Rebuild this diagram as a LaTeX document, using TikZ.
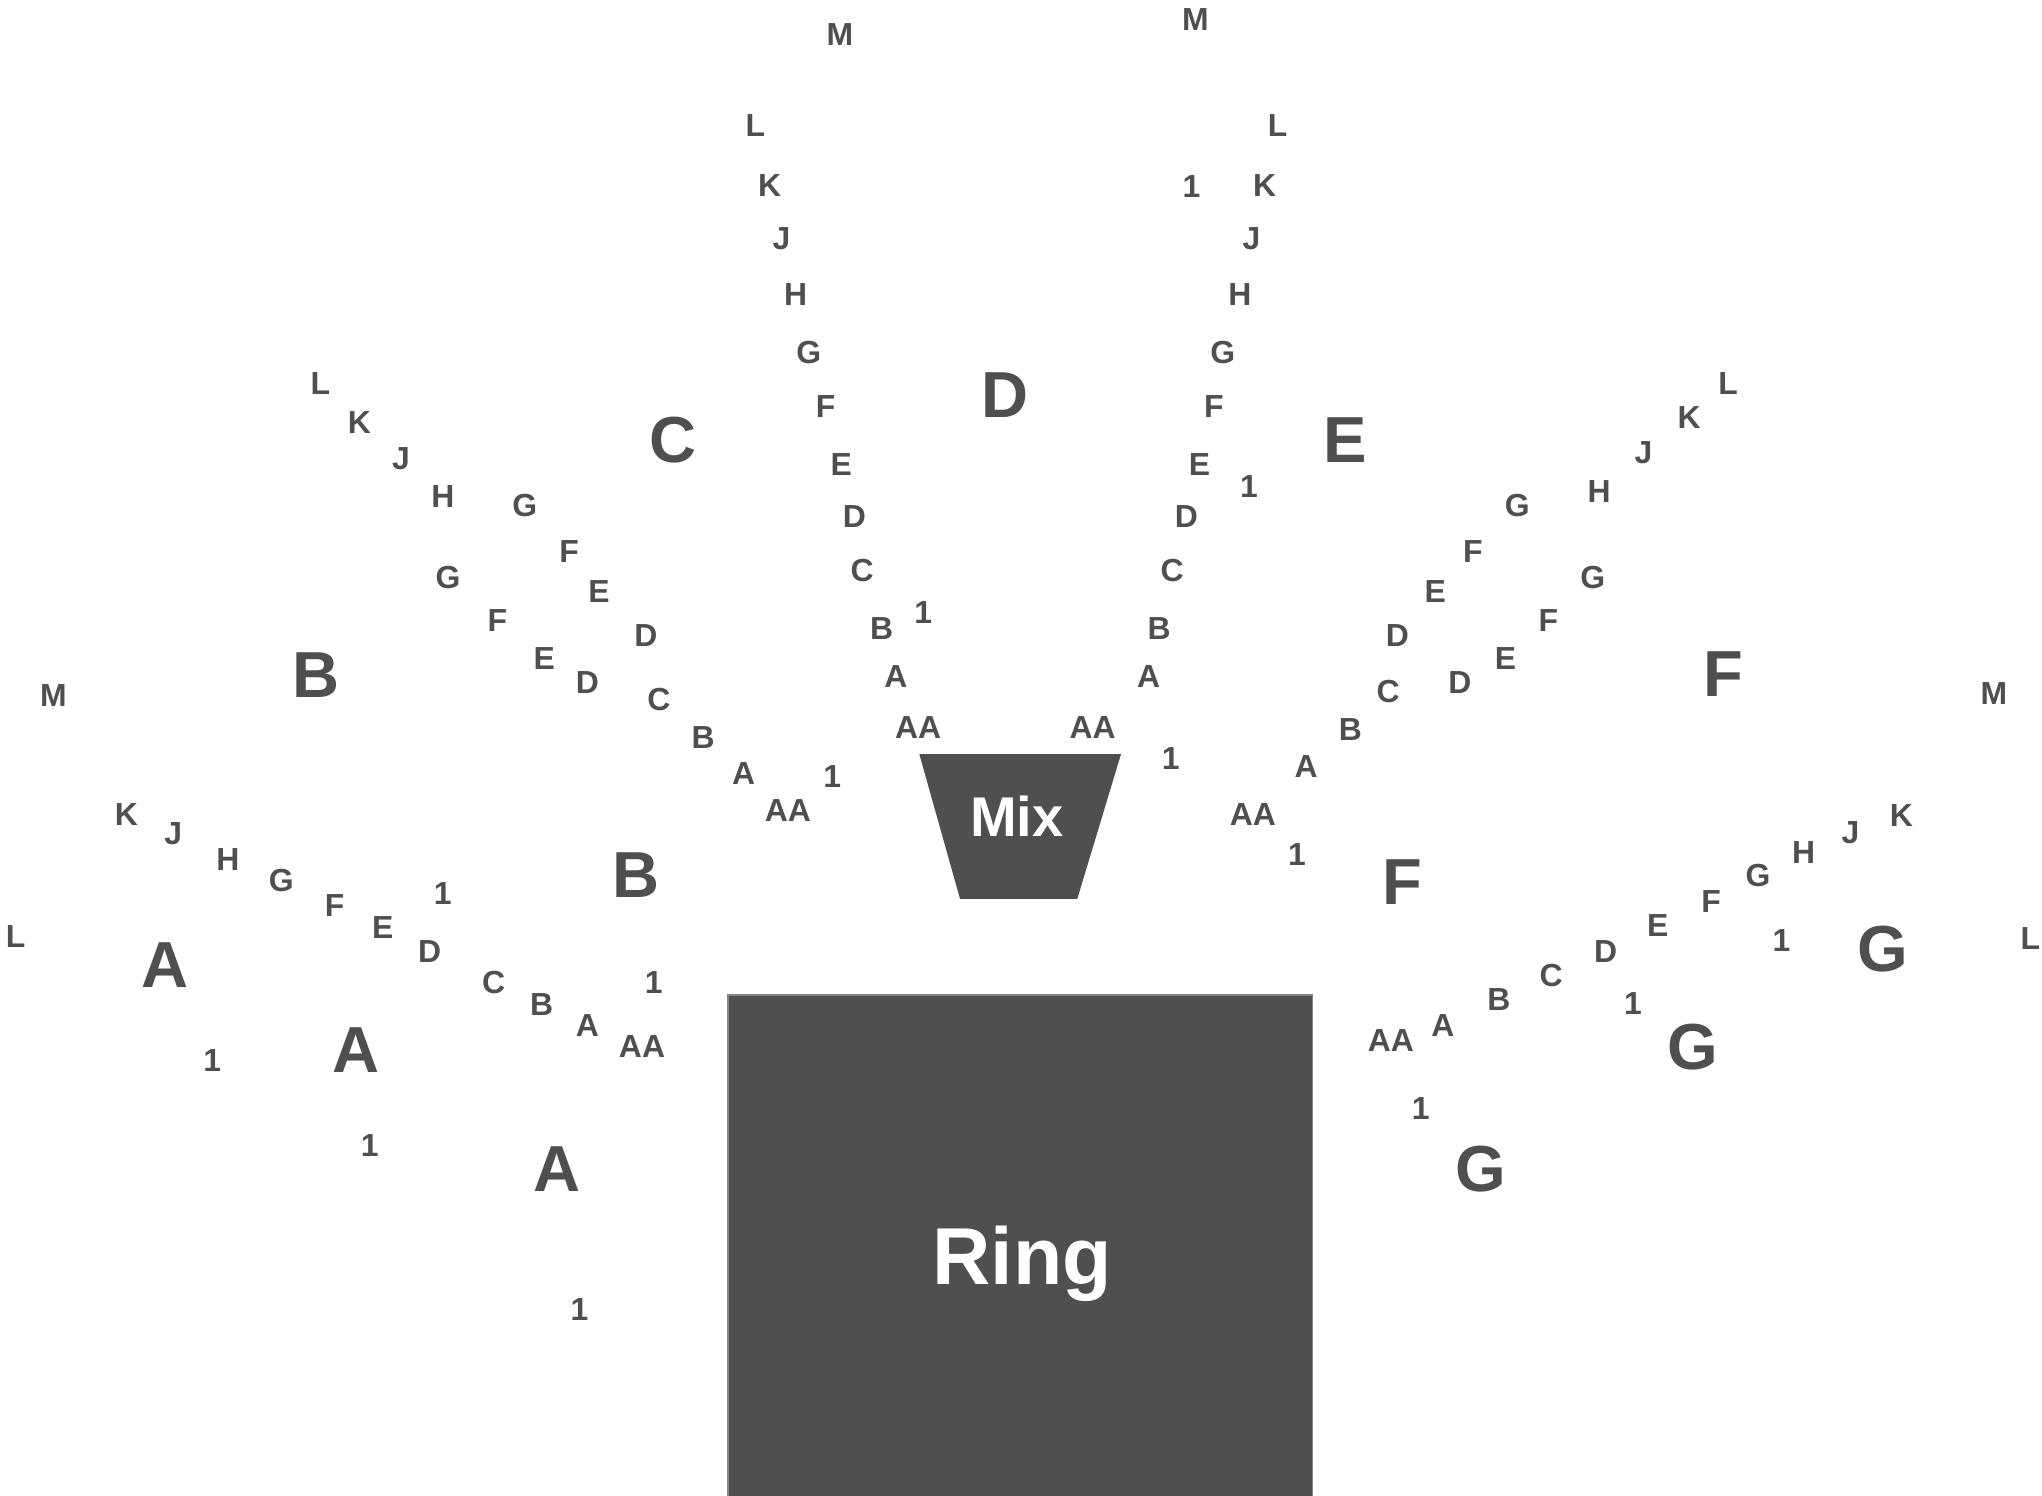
\documentclass[tikz,border=0pt]{standalone}
\usepackage{fontspec}
\setmainfont{Liberation Sans}
\definecolor{seat}{HTML}{4F4F4F}
\definecolor{edgegray}{HTML}{858585}
\tikzset{
  lbl/.style={text=seat, font=\bfseries\fontsize{24.5}{24.5}\selectfont, inner sep=0pt, text height=17.5pt, text depth=0pt, anchor=center},
  sec/.style={text=seat, font=\bfseries\fontsize{50}{50}\selectfont, inner sep=0pt, text height=35.8pt, text depth=0pt, anchor=center},
  stagebox/.style={fill=seat, draw=edgegray, line width=1pt},
  mixbox/.style={fill=seat, draw=none},
  whitetext/.style={text=white, inner sep=0pt, text depth=0pt, anchor=center}
}
\begin{document}
\begin{tikzpicture}[x=1pt,y=-1pt]
\useasboundingbox (0,0) rectangle (1568,1148);
% stage and mix
\path[stagebox] (559,1149) -- (559,764) -- (1008,764) -- (1008,1149);
\node[whitetext, font=\bfseries\fontsize{62}{62}\selectfont, text height=44.4pt] (ring) at (785,964.5) {Ring};
\path[mixbox] (705.9,579) -- (860.8,579) -- (827.2,690.3) -- (737.2,690.3) -- cycle;
\node[whitetext, font=\bfseries\fontsize{43}{43}\selectfont, text height=30.8pt] (mix) at (780.7,627) {Mix};
% section labels
\foreach \t/\x/\y [count=\i] in {D/772/303, E/1033/337, C/517/337, B/243/518, B/488/671,
  A/127/740, A/273/806, A/428/897, F/1323/517, F/1077/677, G/1446/728, G/1300/803, G/1137/897}
  \node[sec] (sec\i) at (\x,\y) {\t};
% row labels, aisle C/D and D/E
\foreach \t/\x/\y [count=\i] in {M/645/26, L/580/96, K/591/142, J/600/183, H/611/226, G/621/270,
  F/634/312, E/646/356, D/656/396, C/662/438, B/677/482, A/688/519, AA/705/558, 1/709/470,
  M/918/15, L/981/96, 1/915/143, K/971/142, J/961/183, H/952/226, G/939/270, F/932/312,
  E/921/356, 1/959/373, D/911/396, C/900/438, B/890/482, A/882/519, AA/839/558, 1/899/582}
  \node[lbl] (top\i) at (\x,\y) {\t};
% row labels, left
\foreach \t/\x/\y [count=\i] in {L/246/294, K/276/324, J/308/352, H/340/381, G/403/388,
  F/437/423, E/460/454, D/496/488, C/506/537, B/540/566, A/571/594, AA/605/622, 1/639/596,
  G/344/443, F/382/476, E/418/505, D/451/524,
  M/41/534, K/97/625, J/133/640, H/175/660, G/216/676, F/257/695, E/294/712, D/330/730,
  1/340/686, C/379/754, B/416/771, A/451/787, AA/493/803, 1/502/754, L/12/719,
  1/163/814, 1/284/879, 1/445/1005}
  \node[lbl] (lft\i) at (\x,\y) {\t};
% row labels, right
\foreach \t/\x/\y [count=\i] in {L/1327/294, K/1297/320, J/1262/347, H/1228/377, G/1165/388,
  F/1131/423, E/1102/454, D/1073/488, C/1066/531, B/1037/560, A/1003/588, AA/962/625, 1/996/656,
  G/1223/443, F/1189/476, E/1156/505, D/1121/524,
  M/1531/532, K/1460/626, J/1421/639, H/1385/654, G/1350/672, F/1314/692, E/1273/710,
  D/1233/730, C/1191/749, B/1151/767, A/1108/787, AA/1068/799, 1/1091/851, 1/1368/722,
  1/1254/770, L/1559/720}
  \node[lbl] (rgt\i) at (\x,\y) {\t};
\end{tikzpicture}
\end{document}
